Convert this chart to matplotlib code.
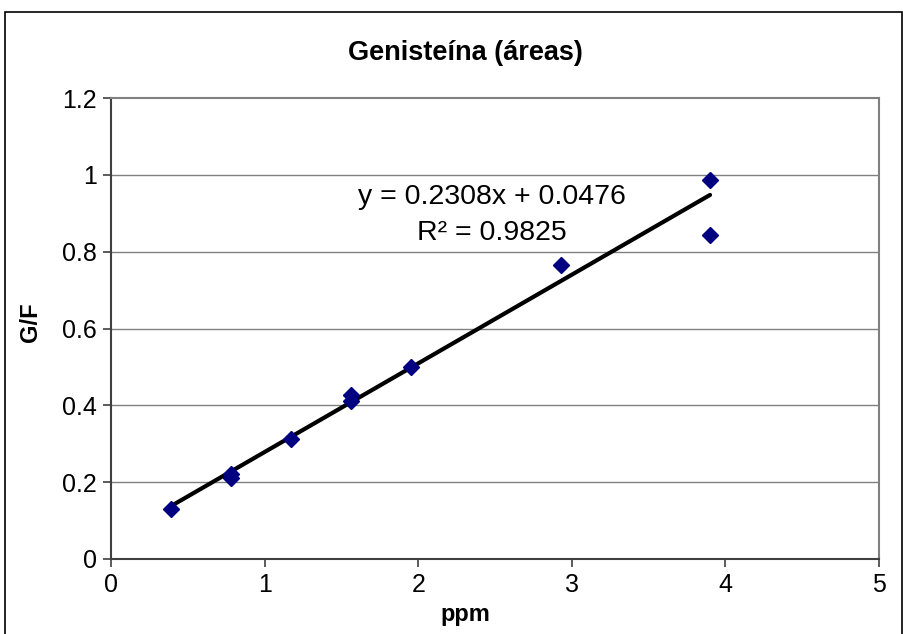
import matplotlib
matplotlib.use("Agg")
import matplotlib.pyplot as plt
from matplotlib.patches import Rectangle

plt.rcParams['font.family'] = ['Liberation Sans', 'DejaVu Sans']

# Calibration data: concentration (ppm) vs. peak-area ratio G/F
ppm = [0.39, 0.78, 0.78, 1.17, 1.56, 1.56, 1.95, 2.93, 3.90, 3.90]
gf = [0.130, 0.222, 0.212, 0.312, 0.428, 0.410, 0.500, 0.766, 0.987, 0.844]

# Linear trendline reported on the chart
slope = 0.2308
intercept = 0.0476
r2 = 0.9825

x_ticks = [0, 1, 2, 3, 4, 5]
y_ticks = [0, 0.2, 0.4, 0.6, 0.8, 1.0, 1.2]
y_tick_labels = ['0', '0.2', '0.4', '0.6', '0.8', '1', '1.2']

fig = plt.figure(figsize=(9.04, 6.34), dpi=100)

# outer chart border
fig.patches.append(Rectangle((5 / 904, -0.01), 897 / 904, (634 - 12) / 634 + 0.01,
                             transform=fig.transFigure, fill=False,
                             edgecolor='black', linewidth=1.2))

ax = fig.add_axes([111 / 904, (634 - 559) / 634, 768 / 904, 461 / 634])

ax.set_xlim(0, 5)
ax.set_ylim(0, 1.2)
ax.set_xticks(x_ticks)
ax.set_xticklabels([str(t) for t in x_ticks])
ax.set_yticks(y_ticks)
ax.set_yticklabels(y_tick_labels)

for yv in y_ticks[1:-1]:
    ax.axhline(yv, color='#808080', linewidth=1.0, zorder=1)

for side in ('top', 'right'):
    ax.spines[side].set_color('#808080')
    ax.spines[side].set_linewidth(1.5)
for side in ('left', 'bottom'):
    ax.spines[side].set_color('#404040')
    ax.spines[side].set_linewidth(1.5)

ax.tick_params(axis='both', direction='out', length=6, width=1.2,
               color='#404040', labelsize=18, pad=4)

# trendline over the data range
x0, x1 = min(ppm), max(ppm)
ax.plot([x0, x1], [slope * x0 + intercept, slope * x1 + intercept],
        color='black', linewidth=3, zorder=3, solid_capstyle='round')

ax.plot(ppm, gf, linestyle='none', marker='D', markersize=8.5,
        color='#000080', markeredgecolor='#000080', zorder=4)

ax.text(2.48, 0.941, f'y = {slope}x + {intercept}', ha='center', va='center',
        fontsize=20.5, zorder=5)
ax.text(2.48, 0.848, f'R² = {r2}', ha='center', va='center',
        fontsize=20.5, zorder=5)

fig.text(465 / 904, 1 - 53 / 634, 'Genisteína (áreas)', ha='center', va='center',
         fontsize=19.5, fontweight='bold')
fig.text(465 / 904, 1 - 614 / 634, 'ppm', ha='center', va='center',
         fontsize=17, fontweight='bold')
fig.text(31 / 904, 1 - 322 / 634, 'G/F', ha='center', va='center',
         rotation=90, fontsize=17, fontweight='bold')

fig.savefig('out.png', dpi=100)
